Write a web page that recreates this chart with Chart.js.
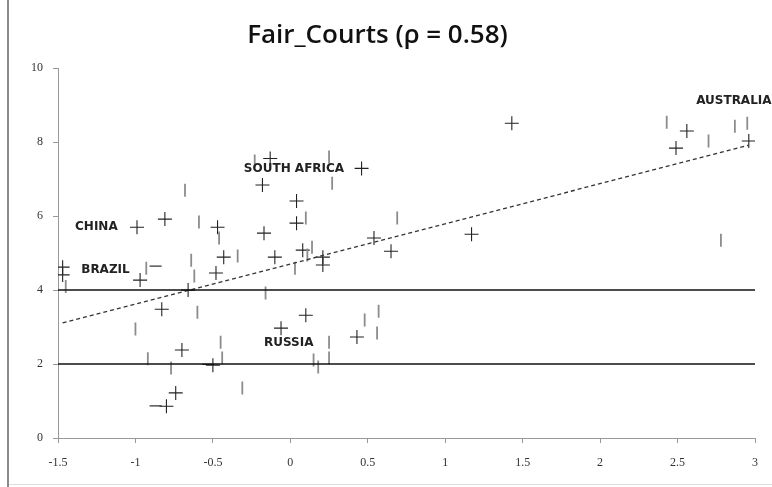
<!DOCTYPE html>
<html>
<head>
<meta charset="utf-8">
<script src="https://cdn.jsdelivr.net/npm/chart.js@4.4.0/dist/chart.umd.min.js"></script>
<style>
  html, body { margin: 0; padding: 0; background: #fff; }
  #wrap { position: relative; width: 772px; height: 487px; }
  #frameLeft { position: absolute; left: 7px; top: 0; width: 2px; height: 487px; background: #8a8a8a; }
  #frameBottom { position: absolute; left: 9px; top: 484px; width: 763px; height: 1px; background: #ddd; }
</style>
</head>
<body>
<div id="wrap">
  <canvas id="chart" width="772" height="487"></canvas>
  <div id="frameLeft"></div>
  <div id="frameBottom"></div>
</div>
<script>
// cruces negras (+)
const crossX = [-1.47, -1.47, -0.99, -0.81, -0.47, -0.97, -0.48, -0.43, -0.66, -0.83, -0.70, -0.50, -0.74, -0.80,
                -0.06, 0.10, 0.43, -0.13, -0.18, 0.46, 0.04, 0.04, -0.17, -0.10, 0.08, 0.21, 0.21, 0.54,
                0.65, 1.17, 1.43, 2.56, 2.49, 2.96];
const crossY = [4.62, 4.41, 5.70, 5.92, 5.70, 4.27, 4.46, 4.89, 4.00, 3.48, 2.38, 1.97, 1.22, 0.86,
                2.97, 3.32, 2.73, 7.56, 6.84, 7.29, 6.41, 5.81, 5.54, 4.89, 5.08, 4.89, 4.68, 5.41,
                5.05, 5.51, 8.51, 8.30, 7.84, 8.03];

// marcas verticales grises (|)
const barX = [-1.45, -0.68, -0.59, -0.46, -0.93, -0.64, -0.62, -0.34, -0.60, -1.00, -0.92, -0.77, -0.44, -0.45,
              -0.31, -0.16, 0.15, 0.18, 0.25, 0.25, 0.48, 0.56, 0.57, -0.23, 0.25, 0.27, 0.10, 0.14,
              0.11, 0.03, 0.69, 2.43, 2.70, 2.87, 2.95, 2.78];
const barY = [4.10, 6.70, 5.84, 5.41, 4.59, 4.81, 4.38, 4.92, 3.40, 2.95, 2.14, 1.89, 2.16, 2.59,
              1.35, 3.92, 2.11, 1.92, 2.16, 2.59, 3.19, 2.84, 3.43, 7.49, 7.60, 6.89, 5.95, 5.16,
              4.95, 4.59, 5.95, 8.54, 8.03, 8.43, 8.51, 5.35];

// guiones horizontales
const dashX = [-0.87, -0.87, -0.53];
const dashY = [4.65, 0.87, 1.99];

// tendencia y límites
const trendX = [-1.47, 2.96];
const trendY = [3.11, 7.92];
const limitX = [-1.5, 3];
const upperLimit = [4, 4];
const lowerLimit = [2, 2];

// etiquetas de países
const labelNames = ['AUSTRALIA', 'SOUTH AFRICA', 'CHINA', 'BRAZIL', 'RUSSIA'];
const labelX = [2.62, -0.30, -1.39, -1.35, -0.17];
const labelY = [9.11, 7.29, 5.70, 4.55, 2.56];

const xTicks = [-1.5, -1, -0.5, 0, 0.5, 1, 1.5, 2, 2.5, 3];

const toPts = (xs, ys) => xs.map((x, i) => ({ x: x, y: ys[i] }));

const countryLabels = {
  id: 'countryLabels',
  afterDatasetsDraw(chart) {
    const { ctx, scales } = chart;
    ctx.save();
    ctx.font = 'bold 12px "DejaVu Sans"';
    ctx.fillStyle = '#222';
    ctx.textBaseline = 'middle';
    labelNames.forEach((name, i) => {
      ctx.fillText(name, scales.x.getPixelForValue(labelX[i]), scales.y.getPixelForValue(labelY[i]));
    });
    ctx.restore();
  }
};

new Chart(document.getElementById('chart'), {
  type: 'scatter',
  data: {
    datasets: [
      { data: toPts(limitX, upperLimit), type: 'line', showLine: true, borderColor: '#111', borderWidth: 1.5, pointRadius: 0 },
      { data: toPts(limitX, lowerLimit), type: 'line', showLine: true, borderColor: '#111', borderWidth: 1.5, pointRadius: 0 },
      { data: toPts(trendX, trendY), type: 'line', showLine: true, borderColor: '#333', borderWidth: 1.3, borderDash: [4, 3], pointRadius: 0 },
      { data: toPts(barX, barY), pointStyle: 'line', rotation: 90, pointRadius: 6.5, borderColor: '#8c8c8c', borderWidth: 1.8, backgroundColor: '#8c8c8c' },
      { data: toPts(dashX, dashY), pointStyle: 'line', rotation: 0, pointRadius: 6, borderColor: '#333', borderWidth: 1.3 },
      { data: toPts(crossX, crossY), pointStyle: 'cross', pointRadius: 7, borderColor: '#222', borderWidth: 1.1 }
    ]
  },
  options: {
    responsive: false,
    animation: false,
    events: [],
    layout: { padding: { left: 0, right: 17, top: 0, bottom: 0 } },
    plugins: {
      legend: { display: false },
      tooltip: { enabled: false },
      title: {
        display: true,
        text: 'Fair_Courts (ρ = 0.58)',
        color: '#111',
        font: { family: '"Open Sans"', size: 26, weight: '600', lineHeight: 1.2 },
        padding: { top: 20, bottom: 17 }
      }
    },
    scales: {
      x: {
        type: 'linear',
        min: -1.5,
        max: 3,
        afterBuildTicks: (axis) => { axis.ticks = xTicks.map(v => ({ value: v })); },
        ticks: { color: '#333', font: { family: '"Liberation Serif"', size: 12 }, padding: 13, callback: (v) => String(v) },
        grid: { display: true, drawOnChartArea: false, drawTicks: true, tickLength: 5, color: '#999' },
        border: { color: '#999', width: 1 },
        afterFit: (axis) => { axis.height = 49; }
      },
      y: {
        min: 0,
        max: 10,
        ticks: { stepSize: 2, color: '#333', font: { family: '"Liberation Serif"', size: 12 }, padding: 10 },
        grid: { display: true, drawOnChartArea: false, drawTicks: true, tickLength: 5, color: '#999' },
        border: { color: '#999', width: 1 },
        afterFit: (axis) => { axis.width = 58; }
      }
    }
  },
  plugins: [countryLabels]
});
</script>
</body>
</html>
